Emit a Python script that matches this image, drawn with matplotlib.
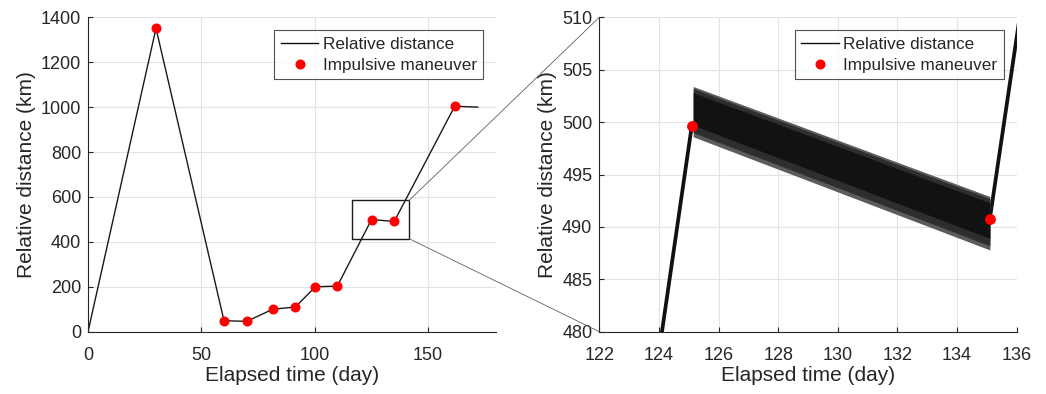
import matplotlib
matplotlib.use("Agg")
import matplotlib.pyplot as plt
from matplotlib.patches import Rectangle, ConnectionPatch
from matplotlib.lines import Line2D

plt.rcParams['font.family'] = ['Liberation Sans', 'DejaVu Sans']

# ---- data ----
# full trajectory (relative distance vs elapsed time)
line_t = [0, 30, 60, 70, 81.5, 91.5, 100.3, 110, 125.1, 135.1, 161.8, 172]
line_d = [0, 1351, 49, 46, 100, 110, 200, 203, 499.6, 490.8, 1004, 1000]
# impulsive maneuvers
man_t = [30, 60, 70, 81.5, 91.5, 100.3, 110, 125.1, 135.1, 161.8]
man_d = [1351, 49, 46, 100, 110, 200, 203, 499.6, 490.8, 1004]
# oscillation envelope between maneuvers (zoomed view), outer -> inner
band_t = [125.15, 135.1]
band_hi = [503.4, 492.9]
band_lo = [498.6, 487.8]
band_mid_hi = [503.2, 492.7]
band_mid_lo = [499.0, 488.2]
band_core_hi = [502.8, 492.3]
band_core_lo = [499.7, 488.9]

left_xticks = [0, 50, 100, 150]
left_yticks = [0, 200, 400, 600, 800, 1000, 1200, 1400]
right_xticks = [122, 124, 126, 128, 130, 132, 134, 136]
right_yticks = [480, 485, 490, 495, 500, 505, 510]

W, H = 1046, 394
fig = plt.figure(figsize=(W / 100, H / 100), dpi=100)

def px_axes(l, r, t, b):
    return fig.add_axes([l / W, 1 - b / H, (r - l) / W, (b - t) / H])

ax1 = px_axes(88, 496, 17.3, 331.7)
ax2 = px_axes(599.3, 1016.7, 17.3, 331.7)

txt = '#262626'
for ax in (ax1, ax2):
    ax.grid(True, color='#e3e3e3', lw=0.8)
    ax.set_axisbelow(True)
    for s in ('top', 'right'):
        ax.spines[s].set_visible(False)
    for s in ('left', 'bottom'):
        ax.spines[s].set_color('#262626')
        ax.spines[s].set_linewidth(0.8)
    ax.tick_params(direction='in', length=3.5, width=0.8, colors='#262626',
                   labelsize=13, labelcolor=txt)
    ax.tick_params(axis='x', pad=11)
    ax.tick_params(axis='y', pad=5)
    ax.set_xlabel('Elapsed time (day)', fontsize=15, color=txt, labelpad=1.5)
    ax.set_ylabel('Relative distance (km)', fontsize=15, color=txt, labelpad=3.5)

# ---- left panel ----
ax1.plot(line_t, line_d, color='#1a1a1a', lw=1.0)
ax1.plot(man_t, man_d, 'o', color='#ff0000', ms=6.2, mec='#ff0000', ls='none')
ax1.set_xlim(0, 180)
ax1.set_ylim(0, 1400)
ax1.set_xticks(left_xticks)
ax1.set_yticks(left_yticks)

zoom_box = (116.3, 414, 141.7 - 116.3, 585 - 414)
ax1.add_patch(Rectangle(zoom_box[:2], zoom_box[2], zoom_box[3], fill=False,
                        ec='#1a1a1a', lw=1.0, zorder=5))

# ---- right panel ----
ax2.plot(line_t, line_d, color='#111111', lw=2.7, zorder=2,
         solid_capstyle='butt')
ax2.fill_between(band_t, band_lo, band_hi, color='#5c5c5c', lw=0, zorder=3)
ax2.fill_between(band_t, band_mid_lo, band_mid_hi, color='#2e2e2e', lw=0, zorder=3)
ax2.fill_between(band_t, band_core_lo, band_core_hi, color='#121212', lw=0, zorder=3)
ax2.plot(man_t, man_d, 'o', color='#ff0000', ms=6.8, mec='#ff0000', ls='none',
         zorder=4)
ax2.set_xlim(122, 136)
ax2.set_ylim(480, 510)
ax2.set_xticks(right_xticks)
ax2.set_yticks(right_yticks)

# ---- legends ----
handles = [Line2D([], [], color='#111111', lw=1.0),
           Line2D([], [], marker='o', color='#ff0000', ls='none', ms=6.2)]
labels = ['Relative distance', 'Impulsive maneuver']
for ax in (ax1, ax2):
    leg = ax.legend(handles, labels, loc='upper right', fontsize=12.3,
                    frameon=True, fancybox=False, borderaxespad=0.75,
                    handlelength=2.2, handletextpad=0.25, borderpad=0.38,
                    labelspacing=0.36)
    leg.get_frame().set_edgecolor('#262626')
    leg.get_frame().set_linewidth(0.8)
    for t in leg.get_texts():
        t.set_color(txt)

# ---- zoom connectors ----
for (yb, yr) in ((zoom_box[1] + zoom_box[3], 1.0), (zoom_box[1], 0.0)):
    cp = ConnectionPatch(xyA=(zoom_box[0] + zoom_box[2], yb), coordsA=ax1.transData,
                         xyB=(0.0, yr), coordsB=ax2.transAxes,
                         color='#606060', lw=0.6)
    fig.add_artist(cp)

fig.savefig('out.png', dpi=100)
